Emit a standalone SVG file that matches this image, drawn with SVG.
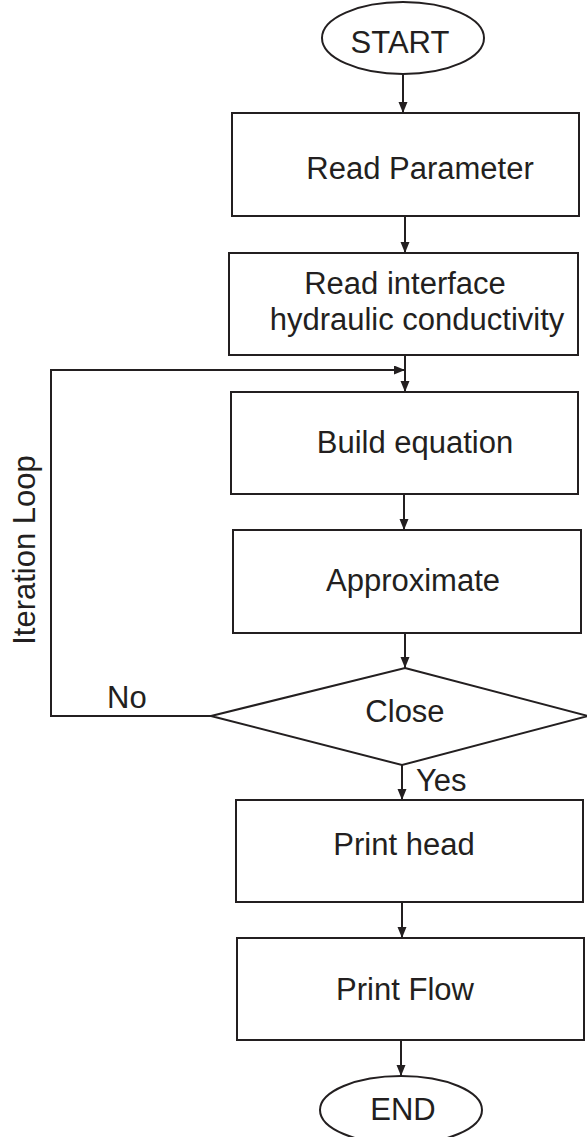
<svg xmlns="http://www.w3.org/2000/svg" width="587" height="1137" viewBox="0 0 587 1137">
<style>
.s{fill:#fff;stroke:#231f20;stroke-width:2}
.t{font-family:"Liberation Sans",Arial,sans-serif;font-size:31px;fill:#231f20;text-anchor:middle}
.c{fill:none;stroke:#231f20;stroke-width:2}
</style>
<defs>
<marker id="ah" markerUnits="userSpaceOnUse" markerWidth="12" markerHeight="10" refX="11" refY="4.5" orient="auto">
<path d="M0,0 L11,4.5 L0,9 z" fill="#231f20"/>
</marker>
</defs>
<rect width="587" height="1137" fill="#fff"/>
<g id="connectors">
<line class="c" x1="403" y1="74" x2="403" y2="113" marker-end="url(#ah)"/>
<line class="c" x1="405" y1="216" x2="405" y2="253" marker-end="url(#ah)"/>
<line class="c" x1="405" y1="355" x2="405" y2="392" marker-end="url(#ah)"/>
<polyline class="c" points="211,716 51,716 51,370 405,370" marker-end="url(#ah)"/>
<line class="c" x1="404" y1="494" x2="404" y2="530" marker-end="url(#ah)"/>
<line class="c" x1="405" y1="633" x2="405" y2="668" marker-end="url(#ah)"/>
<line class="c" x1="402" y1="765" x2="402" y2="800" marker-end="url(#ah)"/>
<line class="c" x1="402" y1="902" x2="402" y2="938" marker-end="url(#ah)"/>
<line class="c" x1="401" y1="1040" x2="401" y2="1076" marker-end="url(#ah)"/>
<text class="t" x="107" y="708" style="text-anchor:start">No</text>
<text class="t" x="416" y="791" style="text-anchor:start">Yes</text>
<text class="t" transform="translate(35,550) rotate(-90)">Iteration Loop</text>
</g>
<g id="start">
<ellipse class="s" cx="403" cy="38" rx="81" ry="36"/>
<text class="t" x="400" y="53">START</text>
</g>
<g id="read-parameter">
<rect class="s" x="232" y="113" width="347" height="103"/>
<text class="t" x="420" y="179">Read Parameter</text>
</g>
<g id="read-interface">
<rect class="s" x="229" y="253" width="349" height="102"/>
<text class="t" x="405" y="294">Read interface</text>
<text class="t" x="417" y="330">hydraulic conductivity</text>
</g>
<g id="build-equation">
<rect class="s" x="231" y="392" width="347" height="102"/>
<text class="t" x="415" y="453">Build equation</text>
</g>
<g id="approximate">
<rect class="s" x="233" y="530" width="348" height="103"/>
<text class="t" x="413" y="591">Approximate</text>
</g>
<g id="close">
<polygon class="s" points="405,668 588,716 402,765 211,716"/>
<text class="t" x="405" y="722">Close</text>
</g>
<g id="print-head">
<rect class="s" x="236" y="800" width="347" height="102"/>
<text class="t" x="404" y="855">Print head</text>
</g>
<g id="print-flow">
<rect class="s" x="237" y="938" width="347" height="102"/>
<text class="t" x="405" y="1000">Print Flow</text>
</g>
<g id="end">
<ellipse class="s" cx="401" cy="1110" rx="81" ry="34"/>
<text class="t" x="403" y="1120">END</text>
</g>
</svg>
